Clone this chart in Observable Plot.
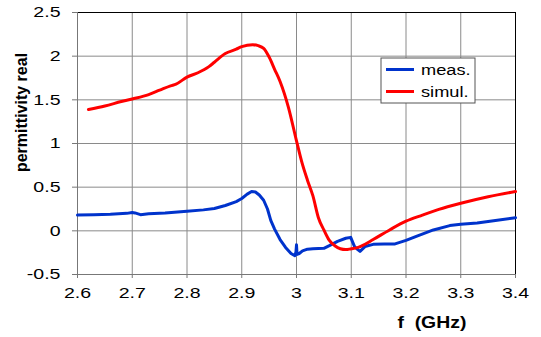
<!DOCTYPE html>
<html><head><meta charset="utf-8">
<script src="https://cdn.jsdelivr.net/npm/d3@7"></script>
<script src="https://cdn.jsdelivr.net/npm/@observablehq/plot@0.6"></script>
<style>body{margin:0;background:#fff;}</style>
</head><body><div id="chart"></div>
<script>
// measured permittivity (real part)
const measF = [2.60, 2.63, 2.66, 2.69, 2.70, 2.705, 2.715, 2.73, 2.76, 2.80, 2.83, 2.85, 2.87, 2.89, 2.90, 2.91, 2.918, 2.925, 2.932, 2.94, 2.947, 2.953, 2.96, 2.97, 2.98, 2.99, 2.997, 2.999, 3.0, 3.001, 3.005, 3.011, 3.02, 3.03, 3.05, 3.06, 3.075, 3.09, 3.099, 3.102, 3.106, 3.112, 3.116, 3.125, 3.14, 3.16, 3.18, 3.20, 3.22, 3.25, 3.28, 3.30, 3.33, 3.36, 3.40];
const measE = [0.18, 0.185, 0.19, 0.20, 0.21, 0.205, 0.185, 0.195, 0.205, 0.225, 0.24, 0.255, 0.29, 0.335, 0.37, 0.42, 0.45, 0.445, 0.41, 0.35, 0.25, 0.12, 0.02, -0.10, -0.19, -0.26, -0.285, -0.24, -0.16, -0.27, -0.26, -0.23, -0.21, -0.205, -0.20, -0.17, -0.12, -0.085, -0.075, -0.12, -0.18, -0.215, -0.235, -0.18, -0.155, -0.15, -0.15, -0.11, -0.06, 0.01, 0.06, 0.075, 0.09, 0.115, 0.15];
// simulated permittivity (real part)
const simF = [2.62, 2.65, 2.68, 2.70, 2.73, 2.75, 2.77, 2.78, 2.80, 2.82, 2.84, 2.85, 2.87, 2.89, 2.90, 2.92, 2.93, 2.94, 2.95, 2.96, 2.97, 2.985, 3.0, 3.01, 3.02, 3.03, 3.04, 3.05, 3.06, 3.07, 3.08, 3.09, 3.10, 3.11, 3.12, 3.14, 3.17, 3.20, 3.23, 3.26, 3.30, 3.35, 3.40];
const simE = [1.39, 1.43, 1.48, 1.51, 1.56, 1.61, 1.66, 1.68, 1.76, 1.81, 1.88, 1.93, 2.03, 2.08, 2.11, 2.13, 2.12, 2.09, 1.99, 1.85, 1.71, 1.42, 1.03, 0.78, 0.58, 0.40, 0.15, 0.01, -0.11, -0.17, -0.205, -0.215, -0.205, -0.195, -0.17, -0.10, 0.01, 0.11, 0.18, 0.245, 0.315, 0.39, 0.45];

const xTicks = [2.6, 2.7, 2.8, 2.9, 3.0, 3.1, 3.2, 3.3, 3.4];
const xTickLabels = ["2.6", "2.7", "2.8", "2.9", "3", "3.1", "3.2", "3.3", "3.4"];
const yTicks = [-0.5, 0, 0.5, 1, 1.5, 2, 2.5];
const yTickLabels = ["-0.5", "0", "0.5", "1", "1.5", "2", "2.5"];
const seriesNames = ["meas.", "simul."];
const seriesColors = ["#0033cc", "#ff0000"];
const yLabel = "permittivity real";
const xLabel = "f\u00a0\u00a0(GHz)";

const meas = measF.map((f, i) => ({f, e: measE[i]}));
const sim = simF.map((f, i) => ({f, e: simE[i]}));

const plot = Plot.plot({
  width: 541, height: 337,
  marginLeft: 77, marginRight: 26, marginTop: 12, marginBottom: 63,
  style: {fontFamily: "'Liberation Sans', Arial, sans-serif", fontSize: "15.4px", color: "#000", background: "#fff"},
  x: {domain: [2.6, 3.4]},
  y: {domain: [-0.5, 2.5]},
  marks: [
    Plot.gridX(xTicks, {stroke: "#8a8a8a", strokeOpacity: 1}),
    Plot.gridY(yTicks, {stroke: "#8a8a8a", strokeOpacity: 1}),
    Plot.ruleX([3.4], {stroke: "#000"}),
    Plot.ruleY([2.5], {stroke: "#000"}),
    Plot.ruleX([2.6], {stroke: "#777"}),
    Plot.ruleY([-0.5], {stroke: "#777"}),
    Plot.axisX(xTicks, {tickSize: 4, tickPadding: 9, stroke: "#777", fill: "#000", label: null,
      tickFormat: d => xTickLabels[xTicks.indexOf(d)]}),
    Plot.axisY(yTicks, {tickSize: 5, tickPadding: 12, stroke: "#777", fill: "#000", label: null,
      tickFormat: d => yTickLabels[yTicks.indexOf(d)]}),
    Plot.line(meas, {x: "f", y: "e", stroke: seriesColors[0], strokeWidth: 3}),
    Plot.line(sim, {x: "f", y: "e", stroke: seriesColors[1], strokeWidth: 3, curve: "monotone-x"}),
    Plot.text([yLabel], {text: d => d, frameAnchor: "left", textAnchor: "middle", lineAnchor: "middle", rotate: -90, dx: -55.5, dy: -31, fontWeight: "bold", fontSize: 16, fill: "#000"}),
    Plot.text([xLabel], {text: d => d, frameAnchor: "bottom", textAnchor: "middle", lineAnchor: "middle", dx: 135.4, dy: 48.7, fontWeight: "bold", fontSize: 16, fill: "#000"})
  ]
});
document.getElementById("chart").append(plot);

const svg = d3.select(plot);
function stretch(el, k) {
  const L = el.getComputedTextLength();
  el.setAttribute("textLength", L * k);
  el.setAttribute("lengthAdjust", "spacingAndGlyphs");
}
svg.selectAll('g[aria-label="x-axis tick label"] text, g[aria-label="y-axis tick label"] text').each(function() { stretch(this, 1.27); });
svg.selectAll('g[aria-label="text"] text').each(function() {
  if (this.textContent === xLabel) { this.setAttribute("textLength", 69); this.setAttribute("lengthAdjust", "spacingAndGlyphs"); }
});

// legend
const lg = svg.append("g").attr("aria-label", "legend").attr("text-anchor", "start");
lg.append("rect").attr("x", 381).attr("y", 58).attr("width", 94).attr("height", 45)
  .attr("fill", "#fff").attr("stroke", "#555").attr("stroke-width", 1);
const rowsY = [69.5, 91.5];
seriesNames.forEach((name, i) => {
  lg.append("line").attr("x1", 386).attr("x2", 414).attr("y1", rowsY[i]).attr("y2", rowsY[i])
    .attr("stroke", seriesColors[i]).attr("stroke-width", 3);
  const t = lg.append("text").attr("x", 421).attr("y", rowsY[i] + 5)
    .attr("text-anchor", "start").attr("font-size", 14).attr("fill", "#000").text(name);
  stretch(t.node(), 1.3);
});
</script>
</body></html>
